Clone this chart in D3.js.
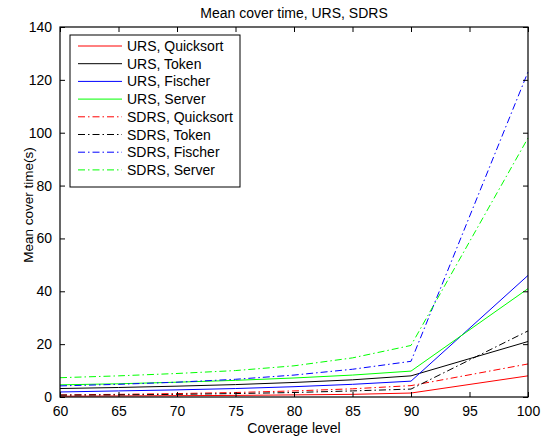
<!DOCTYPE html>
<html>
<head>
<meta charset="utf-8">
<script src="https://cdn.jsdelivr.net/npm/d3@7"></script>
<style>
  body { margin: 0; background: #fff; }
  svg { display: block; font-family: "Liberation Sans", Arial, Helvetica, sans-serif; }
</style>
</head>
<body>
<script>
// data
var coverage = [60, 65, 70, 75, 80, 85, 90, 100];
var ursQuicksort  = [0.3, 0.4, 0.5, 0.6, 0.8, 1.0, 1.5, 8];
var ursToken      = [3.2, 3.6, 4.1, 4.7, 5.5, 6.5, 8, 21];
var ursFischer    = [1.9, 2.3, 2.7, 3.2, 3.9, 4.8, 6, 46];
var ursServer     = [4.6, 5.0, 5.6, 6.3, 7.2, 8.3, 9.8, 41];
var sdrsQuicksort = [0.8, 1.0, 1.3, 1.7, 2.3, 3.1, 4.3, 12.5];
var sdrsToken     = [0.7, 0.8, 1.0, 1.3, 1.7, 2.3, 3, 25];
var sdrsFischer   = [4.2, 4.8, 5.6, 6.7, 8.3, 10.5, 13.5, 123];
var sdrsServer    = [7.3, 8, 8.9, 10, 11.8, 14.8, 19.5, 98];

var xTicks = [60, 65, 70, 75, 80, 85, 90, 95, 100];
var yTicks = [0, 20, 40, 60, 80, 100, 120, 140];

var series = [
  {name: "URS, Quicksort",  values: ursQuicksort,  color: "#ff0000", dash: null},
  {name: "URS, Token",      values: ursToken,      color: "#000000", dash: null},
  {name: "URS, Fischer",    values: ursFischer,    color: "#0000ff", dash: null},
  {name: "URS, Server",     values: ursServer,     color: "#00ff00", dash: null},
  {name: "SDRS, Quicksort", values: sdrsQuicksort, color: "#ff0000", dash: "7,3,1.5,3"},
  {name: "SDRS, Token",     values: sdrsToken,     color: "#000000", dash: "7,3,1.5,3"},
  {name: "SDRS, Fischer",   values: sdrsFischer,   color: "#0000ff", dash: "7,3,1.5,3"},
  {name: "SDRS, Server",    values: sdrsServer,    color: "#00ff00", dash: "7,3,1.5,3"}
];

var w = 541, h = 437;
var pLeft = 60, pRight = 528, pTop = 27, pBottom = 397;

var svg = d3.select("body").append("svg")
  .attr("width", w)
  .attr("height", h);

var xScale = d3.scaleLinear().domain([60, 100]).range([pLeft, pRight]);
var yScale = d3.scaleLinear().domain([0, 140]).range([pBottom, pTop]);

// lines
var line = d3.line()
  .x(function(d, i){ return xScale(coverage[i]); })
  .y(function(d){ return yScale(d); });

svg.append("g").selectAll("path")
  .data(series)
  .enter()
  .append("path")
  .attr("d", function(s){ return line(s.values); })
  .attr("fill", "none")
  .attr("stroke", function(s){ return s.color; })
  .attr("stroke-width", 1)
  .attr("stroke-dasharray", function(s){ return s.dash; });

// axes, ticks pointing inward like matlab
var xAxis = d3.axisBottom(xScale).tickValues(xTicks).tickSizeInner(-5).tickSizeOuter(0).tickPadding(9);
var yAxis = d3.axisLeft(yScale).tickValues(yTicks).tickSizeInner(-5).tickSizeOuter(0).tickPadding(8);
var xTop = d3.axisTop(xScale).tickValues(xTicks).tickSizeInner(-5).tickSizeOuter(0).tickFormat("");
var yRight = d3.axisRight(yScale).tickValues(yTicks).tickSizeInner(-5).tickSizeOuter(0).tickFormat("");

var gx = svg.append("g").attr("transform", "translate(0," + pBottom + ")").call(xAxis);
var gy = svg.append("g").attr("transform", "translate(" + pLeft + ",0)").call(yAxis);
var gt = svg.append("g").attr("transform", "translate(0," + pTop + ")").call(xTop);
var gr = svg.append("g").attr("transform", "translate(" + pRight + ",0)").call(yRight);

[gx, gy, gt, gr].forEach(function(g){
  g.select(".domain").remove();
  g.selectAll("line").attr("stroke", "#000");
  g.selectAll("text").attr("font-size", 14).attr("fill", "#000");
  g.attr("font-family", null).attr("font-size", null);
});

svg.append("rect")
  .attr("x", pLeft).attr("y", pTop)
  .attr("width", pRight - pLeft).attr("height", pBottom - pTop)
  .attr("fill", "none")
  .attr("stroke", "#000")
  .attr("stroke-width", 1.2);

// titles
svg.append("text")
  .attr("x", (pLeft + pRight) / 2).attr("y", 18)
  .attr("text-anchor", "middle")
  .attr("font-size", 14)
  .text("Mean cover time, URS, SDRS");

svg.append("text")
  .attr("x", (pLeft + pRight) / 2).attr("y", 433)
  .attr("text-anchor", "middle")
  .attr("font-size", 14)
  .text("Coverage level");

svg.append("text")
  .attr("transform", "translate(33,205) rotate(-90)")
  .attr("text-anchor", "middle")
  .attr("font-size", 13.5)
  .text("Mean cover time(s)");

// legend
var legend = svg.append("g");
legend.append("rect")
  .attr("x", 70).attr("y", 35)
  .attr("width", 170).attr("height", 152)
  .attr("fill", "#fff")
  .attr("stroke", "#000")
  .attr("stroke-width", 1);

var rows = legend.selectAll("g.row")
  .data(series)
  .enter()
  .append("g")
  .attr("class", "row")
  .attr("transform", function(d, i){ return "translate(0," + (46 + i * 17.7) + ")"; });

rows.append("line")
  .attr("x1", 78).attr("x2", 122)
  .attr("y1", 0).attr("y2", 0)
  .attr("stroke", function(s){ return s.color; })
  .attr("stroke-width", 1)
  .attr("stroke-dasharray", function(s){ return s.dash; });

rows.append("text")
  .attr("x", 127).attr("y", 5)
  .attr("font-size", 14)
  .text(function(s){ return s.name; });
</script>
</body>
</html>
